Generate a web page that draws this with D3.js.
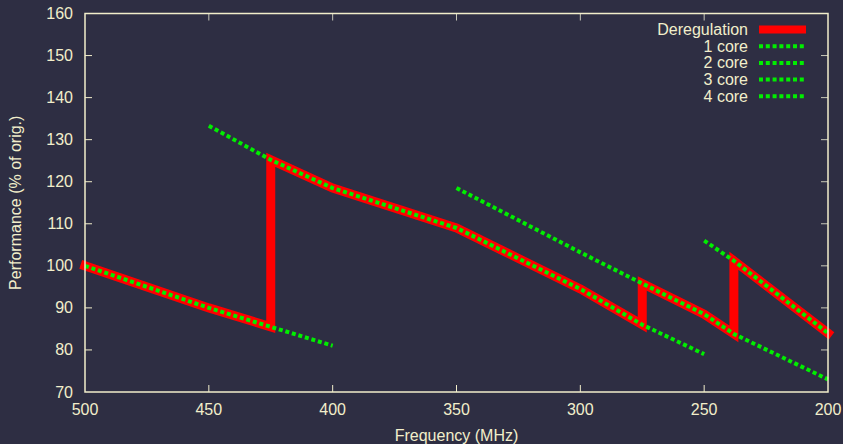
<!DOCTYPE html>
<html>
<head>
<meta charset="utf-8">
<script src="https://cdn.jsdelivr.net/npm/d3@7"></script>
<style>
  html, body { margin: 0; padding: 0; background: #2e2e43; }
  svg { display: block; }
  text { font-family: "Liberation Sans", Arial, sans-serif; fill: #f2eecb; }
</style>
</head>
<body>
<div id="chart"></div>
<script>
// frequency (MHz) / performance (% of original) pairs
var dereg = [[500, 100], [450, 90], [425, 85.5], [425, 125.2], [400, 118.5],
             [350, 109], [300, 94.5], [275, 86], [275, 95.8], [250, 88.5],
             [238, 83.8], [238, 101.2], [200, 84]];
var core1 = [[500, 100], [450, 90], [425, 85.5], [400, 81]];
var core2 = [[450, 133.3], [425, 125.2], [400, 118.5], [350, 109], [300, 94.5], [275, 86], [250, 79]];
var core3 = [[350, 118.5], [300, 103.2], [275, 95.8], [250, 88.5], [238, 83.8], [200, 73]];
var core4 = [[250, 106], [238, 101.2], [200, 84]];

var seriesNames = ["Deregulation", "1 core", "2 core", "3 core", "4 core"];
var xTicks = [500, 450, 400, 350, 300, 250, 200];
var yTicks = [70, 80, 90, 100, 110, 120, 130, 140, 150, 160];

var W = 843, H = 444;
var margin = {top: 13.5, right: 15, bottom: 52, left: 85};
var width = W - margin.left - margin.right;
var height = H - margin.top - margin.bottom;

var axisColor = "#f2eecb";
var red = "#ff0000";
var green = "#00ee00";
var fontSize = "16px";

var svg = d3.select("#chart").append("svg")
    .attr("width", W)
    .attr("height", H);

svg.append("rect").attr("width", W).attr("height", H).attr("fill", "#2e2e43");

var g = svg.append("g")
    .attr("transform", "translate(" + margin.left + "," + margin.top + ")");

var x = d3.scaleLinear().domain([500, 200]).range([0, width]);
var y = d3.scaleLinear().domain([70, 160]).range([height, 0]);

// ticks (inward, mirrored)
var tickLen = 7;
xTicks.forEach(function(t) {
    if (t == 500 || t == 200) return;
    g.append("line").attr("x1", x(t)).attr("x2", x(t))
        .attr("y1", height).attr("y2", height - tickLen)
        .attr("stroke", axisColor).attr("stroke-width", 1);
    g.append("line").attr("x1", x(t)).attr("x2", x(t))
        .attr("y1", 0).attr("y2", tickLen)
        .attr("stroke", "#c8c8b8").attr("stroke-width", 1);
});
yTicks.forEach(function(t) {
    if (t == 70 || t == 160) return;
    g.append("line").attr("x1", 0).attr("x2", tickLen)
        .attr("y1", y(t)).attr("y2", y(t))
        .attr("stroke", axisColor).attr("stroke-width", 1);
    g.append("line").attr("x1", width).attr("x2", width - tickLen)
        .attr("y1", y(t)).attr("y2", y(t))
        .attr("stroke", "#c8c8b8").attr("stroke-width", 1);
});

// tick labels
g.selectAll("text.xt").data(xTicks).enter().append("text")
    .attr("class", "xt")
    .attr("x", function(d) { return x(d); })
    .attr("y", height + 23)
    .attr("text-anchor", "middle")
    .style("font-size", fontSize)
    .text(function(d) { return d; });
g.selectAll("text.yt").data(yTicks).enter().append("text")
    .attr("class", "yt")
    .attr("x", -12)
    .attr("y", function(d) { return y(d) + 5.5; })
    .attr("text-anchor", "end")
    .style("font-size", fontSize)
    .text(function(d) { return d; });

// axis titles
svg.append("text")
    .attr("x", margin.left + width / 2)
    .attr("y", 441)
    .attr("text-anchor", "middle")
    .style("font-size", fontSize)
    .text("Frequency (MHz)");
svg.append("text")
    .attr("transform", "translate(21," + (margin.top + height / 2) + ") rotate(-90)")
    .attr("text-anchor", "middle")
    .style("font-size", fontSize)
    .text("Performance (% of orig.)");

// data lines
var line = d3.line()
    .x(function(d) { return x(d[0]); })
    .y(function(d) { return y(d[1]); });

g.append("path").datum(dereg)
    .attr("d", line)
    .attr("fill", "none")
    .attr("stroke", red)
    .attr("stroke-width", 9)
    .attr("stroke-linecap", "square")
    .attr("stroke-linejoin", "miter");

[core1, core2, core3, core4].forEach(function(s) {
    g.append("path").datum(s)
        .attr("d", line)
        .attr("fill", "none")
        .attr("stroke", green)
        .attr("stroke-width", 4)
        .attr("stroke-dasharray", "4,2.8");
});

// frame
g.append("rect")
    .attr("width", width).attr("height", height)
    .attr("fill", "none")
    .attr("stroke", axisColor)
    .attr("stroke-width", 1.5);

// legend
var legend = svg.append("g");
seriesNames.forEach(function(name, i) {
    var ly = 29.5 + i * 16.7;
    legend.append("text")
        .attr("x", 748).attr("y", ly + 5.5)
        .attr("text-anchor", "end")
        .style("font-size", fontSize)
        .text(name);
    legend.append("line")
        .attr("x1", 759).attr("x2", 806)
        .attr("y1", ly).attr("y2", ly)
        .attr("stroke", i == 0 ? red : green)
        .attr("stroke-width", i == 0 ? 8 : 4)
        .attr("stroke-dasharray", i == 0 ? null : "4,2.8");
});
</script>
</body>
</html>
